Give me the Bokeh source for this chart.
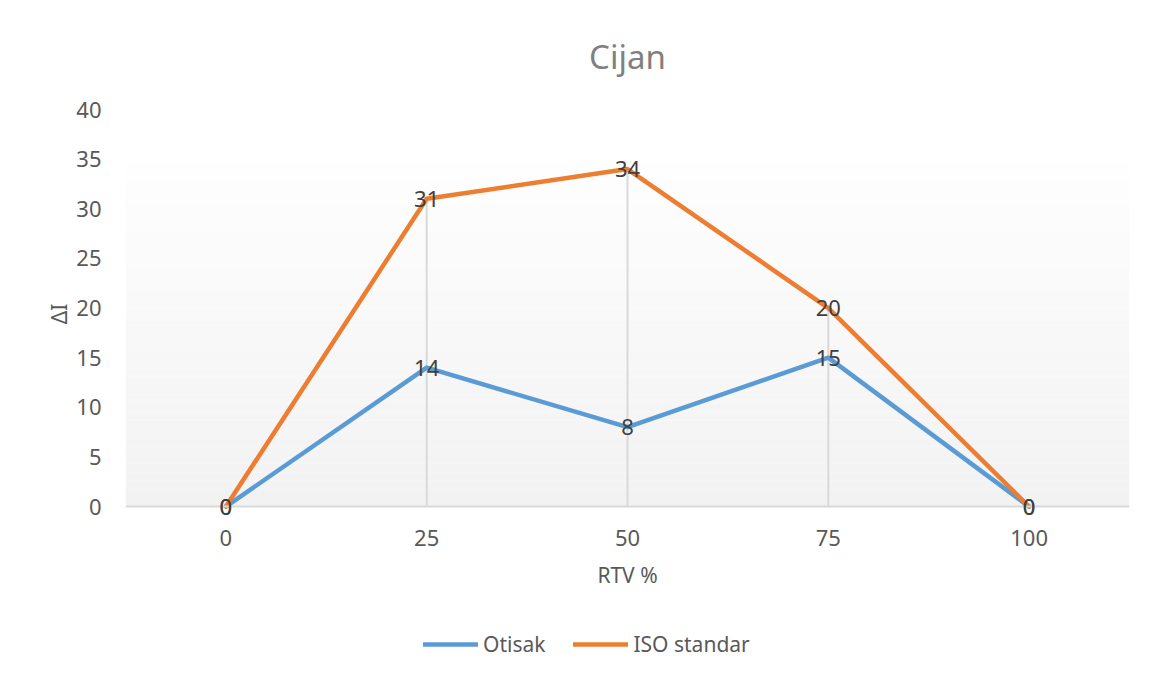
from bokeh.plotting import figure
from bokeh.layouts import column
from bokeh.models import (Range1d, Legend, LegendItem, Title, FixedTicker, ColumnDataSource,
                          LabelSet, Span)
from bokeh.embed import file_html
from bokeh.resources import INLINE
from bokeh.core.properties import value

# ---- data ----
rtv = [0, 25, 50, 75, 100]
otisak = [0, 14, 8, 15, 0]
iso_standar = [0, 31, 34, 20, 0]
series_names = ["Otisak", "ISO standar"]
x_ticks = [0, 25, 50, 75, 100]
y_ticks = [0, 5, 10, 15, 20, 25, 30, 35, 40]

FONT = "Noto Sans"
TXT = "#595959"
BLUE = "#5B9BD5"
ORANGE = "#ED7D31"

p = figure(width=1149, height=600, output_backend="svg", toolbar_location=None,
           x_range=Range1d(-12.5, 112.5), y_range=Range1d(-1.2, 40),
           min_border_left=125, min_border_right=20, min_border_top=108,
           min_border_bottom=83)
p.frame_width = 1004
p.frame_height = 409
p.outline_line_color = None
p.background_fill_color = "white"
p.border_fill_color = "white"
p.xgrid.visible = False
p.ygrid.visible = False

# plot-area gradient (style only)
n_bands = 40
g_top = 34.7
band_bottoms = [g_top * i / n_bands for i in range(n_bands)]
band_tops = [g_top * (i + 1) / n_bands for i in range(n_bands)]
def mix(t):
    c0, c1 = 0xF2, 0xFE
    v = int(round(c0 + (c1 - c0) * t))
    return "#%02x%02x%02x" % (v, v, v)
band_cols = [mix((i + 0.5) / n_bands) for i in range(n_bands)]
p.quad(left=-12.5, right=112.5, bottom=band_bottoms, top=band_tops,
       fill_color=band_cols, line_color=None)

# category axis line at zero
p.add_layout(Span(location=0, dimension="width", line_color="#d9d9d9", line_width=2))

# drop lines
drop_top = [max(a, b) for a, b in zip(otisak, iso_standar)]
p.segment(x0=rtv, y0=[0] * len(rtv), x1=rtv, y1=drop_top, line_color="#d9d9d9", line_width=2)

# series
r1 = p.line(rtv, otisak, line_color=BLUE, line_width=4.5, line_cap="round", line_join="round")
r2 = p.line(rtv, iso_standar, line_color=ORANGE, line_width=4.5, line_cap="round", line_join="round")

# data labels
for ys in (otisak, iso_standar):
    src = ColumnDataSource(dict(x=rtv, y=ys, t=[str(v) for v in ys]))
    p.add_layout(LabelSet(x="x", y="y", text="t", source=src, text_align="center",
                          text_baseline="middle", text_font=value(FONT), text_font_size="22px",
                          text_color="#404040"))

# axes
p.xaxis.ticker = FixedTicker(ticks=x_ticks)
p.yaxis.ticker = FixedTicker(ticks=y_ticks)
for ax in (p.xaxis[0], p.yaxis[0]):
    ax.major_tick_line_color = None
    ax.minor_tick_line_color = None
    ax.major_label_text_font = FONT
    ax.major_label_text_font_size = "22px"
    ax.major_label_text_color = TXT
    ax.axis_label_text_font = FONT
    ax.axis_label_text_font_size = "21px"
    ax.axis_label_text_color = TXT
    ax.axis_label_text_font_style = "normal"
p.xaxis.axis_line_color = None
p.yaxis.axis_line_color = None
p.xaxis.major_label_standoff = 5
p.yaxis.major_label_standoff = 18
p.xaxis.axis_label = "RTV %"
p.yaxis.axis_label = "ΔI"
p.xaxis.axis_label_standoff = 12
p.yaxis.axis_label_standoff = 0

# title
p.add_layout(Title(text="Cijan", align="center", text_font=FONT, text_font_size="33px",
                   text_color="#808080", text_font_style="normal", standoff=62), "above")

# legend strip below the chart
pl = figure(width=1149, height=70, output_backend="svg", toolbar_location=None,
            x_range=Range1d(1000, 1001), y_range=Range1d(1000, 1001),
            min_border=0)
pl.axis.visible = False
pl.grid.visible = False
pl.outline_line_color = None
l1 = pl.line(rtv, otisak, line_color=BLUE, line_width=4.5, line_cap="round")
l2 = pl.line(rtv, iso_standar, line_color=ORANGE, line_width=4.5, line_cap="round")
legend = Legend(items=[LegendItem(label=series_names[0], renderers=[l1]),
                       LegendItem(label=series_names[1], renderers=[l2])],
                orientation="horizontal", location=(298, 13),
                label_text_font=FONT, label_text_font_size="21px", label_text_color=TXT,
                glyph_width=55, spacing=28, border_line_color=None, background_fill_alpha=0,
                padding=10, margin=0)
pl.add_layout(legend, "center")

layout = column(p, pl, spacing=0)
open("out.html", "w").write(file_html(layout, INLINE))
